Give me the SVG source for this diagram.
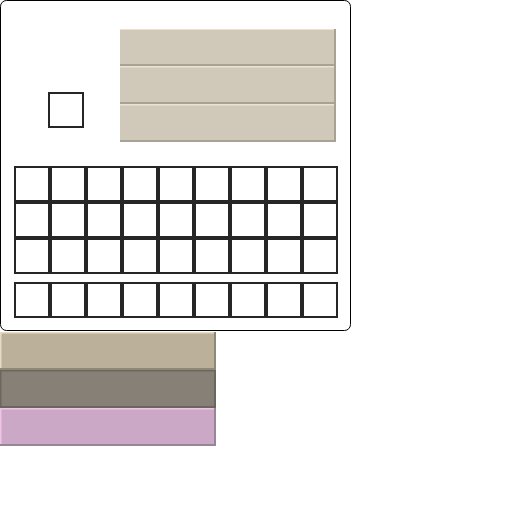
<svg xmlns="http://www.w3.org/2000/svg" width="512" height="512" viewBox="0 0 512 512">
<style>
.slot{fill:#fff;stroke:#262626;stroke-width:2}
.btn{fill:#d0c9ba}
.hl{fill:#ebe2d0}
.sh{fill:#a8a296}
</style>
<rect width="512" height="512" fill="#fff"/>
<g id="panel">
<rect x="0.5" y="0.5" width="350" height="330" rx="6" fill="#fff" stroke="#000" stroke-width="1"/>
</g>
<g id="small-slot"><rect class="slot" x="49" y="93" width="34" height="34"/></g>
<g id="buttons">
<g id="btn1"><rect class="btn" x="120" y="29" width="216" height="37"/><rect class="hl" x="120" y="29" width="216" height="1"/><rect class="sh" x="120" y="64" width="216" height="2"/><rect class="sh" x="334" y="29" width="2" height="37"/></g>
<g id="btn2"><rect class="btn" x="120" y="66" width="216" height="38"/><rect class="hl" x="120" y="66" width="216" height="1.5"/><rect class="sh" x="120" y="102" width="216" height="2"/><rect class="sh" x="334" y="66" width="2" height="38"/></g>
<g id="btn3"><rect class="btn" x="120" y="104" width="216" height="38"/><rect class="hl" x="120" y="104" width="216" height="1.5"/><rect class="sh" x="120" y="140" width="216" height="2"/><rect class="sh" x="334" y="104" width="2" height="38"/></g>
</g>
<g id="grid">
<g id="row1">
<rect class="slot" x="15" y="167" width="34" height="34"/><rect class="slot" x="51" y="167" width="34" height="34"/><rect class="slot" x="87" y="167" width="34" height="34"/><rect class="slot" x="123" y="167" width="34" height="34"/><rect class="slot" x="159" y="167" width="34" height="34"/><rect class="slot" x="195" y="167" width="34" height="34"/><rect class="slot" x="231" y="167" width="34" height="34"/><rect class="slot" x="267" y="167" width="34" height="34"/><rect class="slot" x="303" y="167" width="34" height="34"/>
</g>
<g id="row2">
<rect class="slot" x="15" y="203" width="34" height="34"/><rect class="slot" x="51" y="203" width="34" height="34"/><rect class="slot" x="87" y="203" width="34" height="34"/><rect class="slot" x="123" y="203" width="34" height="34"/><rect class="slot" x="159" y="203" width="34" height="34"/><rect class="slot" x="195" y="203" width="34" height="34"/><rect class="slot" x="231" y="203" width="34" height="34"/><rect class="slot" x="267" y="203" width="34" height="34"/><rect class="slot" x="303" y="203" width="34" height="34"/>
</g>
<g id="row3">
<rect class="slot" x="15" y="239" width="34" height="34"/><rect class="slot" x="51" y="239" width="34" height="34"/><rect class="slot" x="87" y="239" width="34" height="34"/><rect class="slot" x="123" y="239" width="34" height="34"/><rect class="slot" x="159" y="239" width="34" height="34"/><rect class="slot" x="195" y="239" width="34" height="34"/><rect class="slot" x="231" y="239" width="34" height="34"/><rect class="slot" x="267" y="239" width="34" height="34"/><rect class="slot" x="303" y="239" width="34" height="34"/>
</g>
<g id="hotbar">
<rect class="slot" x="15" y="283" width="34" height="34"/><rect class="slot" x="51" y="283" width="34" height="34"/><rect class="slot" x="87" y="283" width="34" height="34"/><rect class="slot" x="123" y="283" width="34" height="34"/><rect class="slot" x="159" y="283" width="34" height="34"/><rect class="slot" x="195" y="283" width="34" height="34"/><rect class="slot" x="231" y="283" width="34" height="34"/><rect class="slot" x="267" y="283" width="34" height="34"/><rect class="slot" x="303" y="283" width="34" height="34"/>
</g>
</g>
<g id="bars">
<g id="bar1"><rect x="0" y="332" width="216" height="38" fill="#bbb19b"/><rect x="0" y="332" width="216" height="1.5" fill="#e6dcc3"/><rect x="0" y="332" width="1.5" height="38" fill="#e6dcc3"/><rect x="0" y="368" width="216" height="2" fill="#8e8877"/><rect x="214" y="332" width="2" height="38" fill="#8e8877"/></g>
<g id="bar2"><rect x="0" y="370" width="216" height="38" fill="#878076"/><rect x="0" y="370" width="216" height="1.5" fill="#6c665e"/><rect x="0" y="370" width="1.5" height="38" fill="#6c665e"/><rect x="0" y="406" width="216" height="2" fill="#6c665e"/><rect x="214" y="370" width="2" height="38" fill="#6c665e"/></g>
<g id="bar3"><rect x="0" y="408" width="216" height="38" fill="#cba8c5"/><rect x="0" y="408" width="216" height="1.5" fill="#f0c4ea"/><rect x="0" y="408" width="1.5" height="38" fill="#f0c4ea"/><rect x="0" y="444" width="216" height="2" fill="#9a8598"/><rect x="214" y="408" width="2" height="38" fill="#9a8598"/></g>
</g>
<g id="connectors"/>
</svg>
